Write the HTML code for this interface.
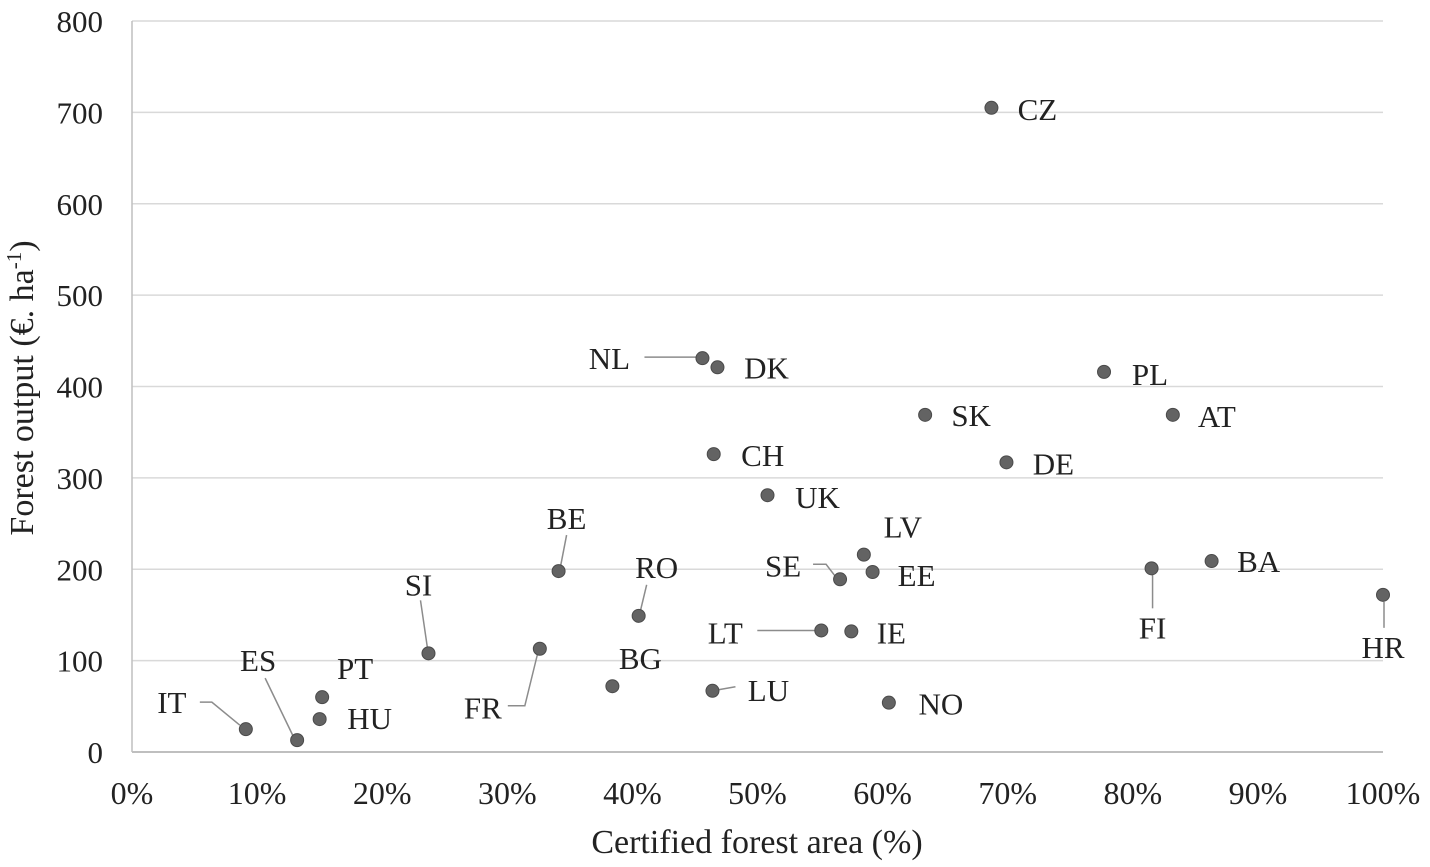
<!DOCTYPE html>
<html><head><meta charset="utf-8"><style>
html,body{margin:0;padding:0;background:#fff;}
svg{display:block;font-family:"Liberation Serif",serif;}
</style></head><body>
<svg id="chart" width="1430" height="867" viewBox="0 0 1430 867" xmlns="http://www.w3.org/2000/svg">
<g id="grid"></g>
<g id="axes"></g>
<g id="marks"></g>
<text transform="translate(33,388) rotate(-90)" text-anchor="middle" font-size="34" fill="#222">Forest output (€. ha<tspan baseline-shift="super" font-size="21">-1</tspan>)</text>
<text x="757" y="853" text-anchor="middle" font-size="34" fill="#222">Certified forest area (%)</text>
</svg>
<script>
const countries = ["IT","ES","PT","HU","SI","FR","BE","BG","RO","NL","DK","CH","LU","UK","LT","SE","IE","LV","EE","NO","SK","CZ","DE","PL","AT","FI","BA","HR"];
const certified = [9.1,13.2,15.2,15.0,23.7,32.6,34.1,38.4,40.5,45.6,46.8,46.5,46.4,50.8,55.1,56.6,57.5,58.5,59.2,60.5,63.4,68.7,69.9,77.7,83.2,81.5,86.3,100];
const output = [25,13,60,36,108,113,198,72,149,431,421,326,67,281,133,189,132,216,197,54,369,705,317,416,369,201,209,172];
const yTicks = [0,100,200,300,400,500,600,700,800];
const xTicks = [0,10,20,30,40,50,60,70,80,90,100];

const X0=132,X1=1383,Y0=752,Y1=21;
const xs=v=>X0+(v/100)*(X1-X0);
const ys=v=>Y0-(v/800)*(Y0-Y1);
const NS="http://www.w3.org/2000/svg";
function mk(tag,attrs,parent){const e=document.createElementNS(NS,tag);for(const k in attrs)e.setAttribute(k,attrs[k]);parent.appendChild(e);return e;}

const layout={IT:[-74,-27,[[-46,-27],[-34,-27],[-6,-4]]],ES:[-39,-80,[[-32,-62],[-4,-4]]],PT:[33,-29],HU:[50,-1],
SI:[-10,-69,[[-8,-53],[-1,-5]]],FR:[-57,59,[[-32,57],[-15,57],[-2,4]]],BE:[8,-53,[[8,-36],[2,-5]]],BG:[28,-28],
RO:[18,-49,[[8,-31],[2,-6]]],NL:[-93,0,[[-58,-1],[-6,-1]]],DK:[49,0],CH:[49,1],LU:[56,-1,[[6,-1],[23,-4]]],UK:[50,2],
LT:[-96,2,[[-64,0],[-6,0]]],SE:[-57,-14,[[-27,-15],[-14,-15],[-4,-2]]],IE:[40,1],LV:[39,-28],EE:[44,3],NO:[52,1],
SK:[46,0],CZ:[46,1],DE:[47,1],PL:[46,2],AT:[44,1],FI:[1,59,[[1,40],[1,5]]],BA:[47,0],HR:[0,52,[[1,33],[1,7]]]};

const grid=document.getElementById('grid'),axes=document.getElementById('axes'),marks=document.getElementById('marks');
yTicks.forEach(t=>{
  if(t>0){const l=mk('line',{x1:X0,x2:X1,y1:ys(t),y2:ys(t),stroke:'#d9d9d9','stroke-width':1.5},grid);
  
  }
  const tx=mk('text',{x:103,y:ys(t)+11,'text-anchor':'end','font-size':31,fill:'#222'},axes);tx.textContent=t;
  
  
});
xTicks.forEach(t=>{
  const tx=mk('text',{x:xs(t),y:804,'text-anchor':'middle','font-size':32,fill:'#222'},axes);tx.textContent=t+'%';
  
  
});
const ax=mk('line',{x1:X0,x2:X1,y1:Y0,y2:Y0,stroke:'#bfbfbf','stroke-width':2},axes);


const ay=mk('line',{x1:X0,x2:X0,y1:Y1,y2:Y0,stroke:'#bfbfbf','stroke-width':1.5},axes);



countries.forEach((c,i)=>{
  const px=xs(certified[i]),py=ys(output[i]);
  const L=layout[c]||[40,0];
  if(L[2]){const pl=mk('polyline',{points:L[2].map(p=>(px+p[0])+','+(py+p[1])).join(' '),fill:'none',stroke:'#8c8c8c','stroke-width':1.5},marks);
    
    }
  const d=mk('circle',{cx:px,cy:py,r:6.5,fill:'#636363',stroke:'#4a4a4a','stroke-width':1},marks);
  
  
  const t=mk('text',{x:px+L[0],y:py+L[1]+11,'text-anchor':'middle','font-size':31,fill:'#222'},marks);t.textContent=c;
  
  
});
</script>
</body></html>
